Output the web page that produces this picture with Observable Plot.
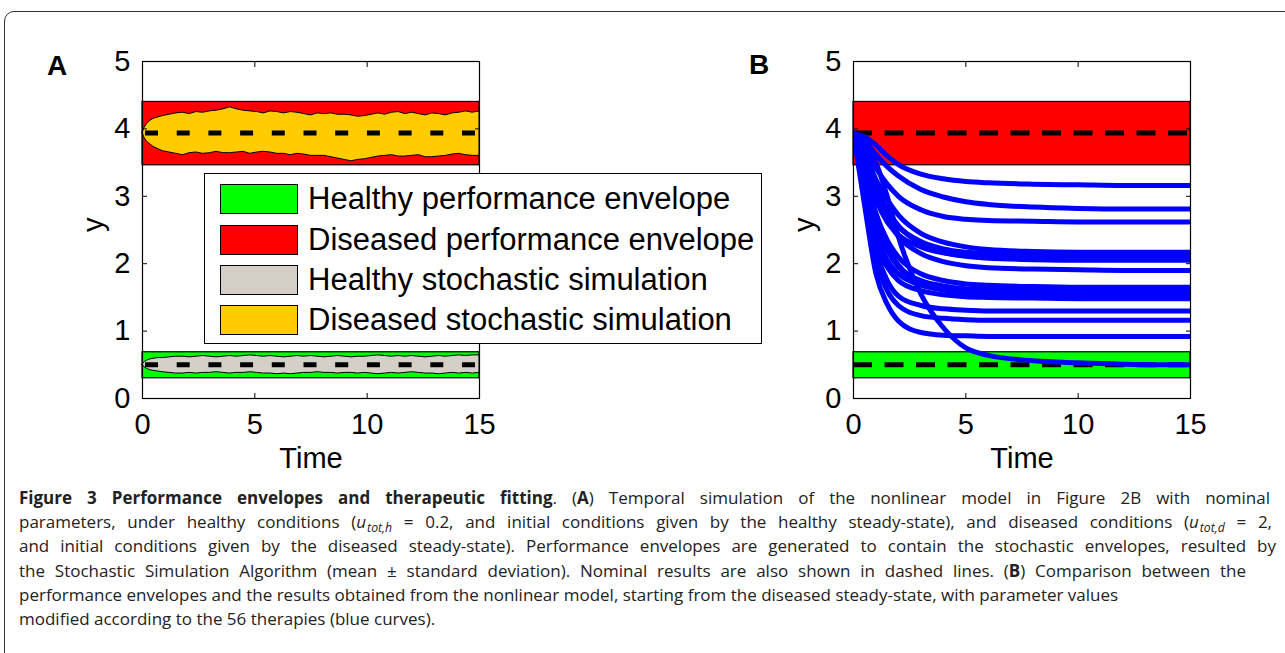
<!DOCTYPE html>
<html>
<head>
<meta charset="utf-8">
<script src="https://cdn.jsdelivr.net/npm/d3@7"></script>
<script src="https://cdn.jsdelivr.net/npm/@observablehq/plot@0.6"></script>
<style>
  html, body { margin: 0; padding: 0; background: #fff; }
  body { width: 1285px; height: 653px; overflow: hidden; position: relative; font-family: "Liberation Sans", Arial, Helvetica, sans-serif; }
  #border { position: absolute; left: 4px; top: 11px; width: 1290px; height: 720px; border: 1px solid #333; border-radius: 10px; box-sizing: border-box; }
  #pa, #pb { position: absolute; top: 0; }
  #pa { left: 0; }
  #pb { left: 711px; }
  .plabel { position: absolute; font-weight: bold; font-size: 28px; line-height: 1; color: #000; }
  #legend { position: absolute; left: 204px; top: 173px; width: 558px; height: 171px; border: 1px solid #000; background: #fff; box-sizing: border-box; }
  .lrow { position: absolute; left: 15px; height: 31px; display: flex; align-items: center; }
  .sw { width: 78px; height: 30px; border: 1px solid #000; box-sizing: border-box; margin-right: 10px; flex: none; }
  .lt { font-size: 31px; white-space: nowrap; color: #000; line-height: 1; }
  #caption { position: absolute; left: 19px; top: 486px; font-family: "Open Sans", "Noto Sans", sans-serif; font-size: 17px; line-height: 24.2px; color: #222; }
  #caption .cl { display: block; height: 24.2px; text-align: justify; text-align-last: justify; }
  #caption .cl.nat { text-align: left; text-align-last: left; white-space: nowrap; }
  #caption sub { font-size: 0.72em; line-height: 0; vertical-align: -0.3em; margin-left: 1px; }
</style>
</head>
<body>
<div id="border"></div>
<div id="pa"></div>
<div id="pb"></div>
<div class="plabel" style="left:47px;top:52px;">A</div>
<div class="plabel" style="left:749px;top:51px;">B</div>
<div id="legend"></div>
<div id="caption">
<span class="cl" style="width:1251px"><b>Figure 3 Performance envelopes and therapeutic fitting</b>. (<b>A</b>) Temporal simulation of the nonlinear model in Figure 2B with nominal</span>
<span class="cl" style="width:1253px">parameters, under healthy conditions (<i>u</i><sub><i>tot,h</i></sub> = 0.2, and initial conditions given by the healthy steady-state), and diseased conditions (<i>u</i><sub><i>tot,d</i></sub> = 2,</span>
<span class="cl" style="width:1257px">and initial conditions given by the diseased steady-state). Performance envelopes are generated to contain the stochastic envelopes, resulted by</span>
<span class="cl" style="width:1227px">the Stochastic Simulation Algorithm (mean ± standard deviation). Nominal results are also shown in dashed lines. (<b>B</b>) Comparison between the</span>
<span class="cl nat">performance envelopes and the results obtained from the nonlinear model, starting from the diseased steady-state, with parameter values</span>
<span class="cl nat">modified according to the 56 therapies (blue curves).</span>
</div>
<script>
// ---------- data ----------
const xTicks = [0, 5, 10, 15];
const yTicks = [0, 1, 2, 3, 4, 5];
const xDomain = [0, 15];
const yDomain = [0, 5];

const legendNames = ["Healthy performance envelope", "Diseased performance envelope", "Healthy stochastic simulation", "Diseased stochastic simulation"];
const legendColors = ["#00ff00", "#ff0000", "#d4d0c8", "#ffcc00"];

// performance envelopes [healthy, diseased]
const envLow = [0.30, 3.46];
const envHigh = [0.686, 4.40];
const envColors = ["#00ff00", "#ff0000"];
// nominal (dashed) results [healthy, diseased]
const nominal = [0.50, 3.94];

// stochastic simulation envelopes (mean ± sd)
const tStoch = [0,0.1,0.2,0.35,0.5,0.7,0.9,
  1.2,1.5,1.8,2.1,2.4,2.7,3.0,3.3,3.6,3.9,
  4.2,4.5,4.8,5.1,5.4,5.7,6.0,6.3,6.6,6.9,
  7.2,7.5,7.8,8.1,8.4,8.7,9.0,9.3,9.6,9.9,
  10.2,10.5,10.8,11.1,11.4,11.7,12.0,12.3,12.6,12.9,
  13.2,13.5,13.8,14.1,14.4,14.7,15];
const diseasedUpper = [3.94,4.02,4.07,4.12,4.15,4.17,4.19,
  4.21,4.23,4.24,4.22,4.25,4.24,4.26,4.27,4.29,4.32,
  4.29,4.27,4.26,4.25,4.23,4.26,4.25,4.23,4.25,4.24,
  4.22,4.20,4.23,4.22,4.23,4.21,4.21,4.20,4.18,4.19,
  4.21,4.23,4.21,4.24,4.25,4.22,4.24,4.22,4.20,4.23,
  4.22,4.20,4.23,4.24,4.26,4.24,4.26];
const diseasedLower = [3.94,3.86,3.81,3.77,3.73,3.70,3.67,
  3.65,3.63,3.61,3.64,3.65,3.63,3.64,3.66,3.64,3.64,
  3.65,3.66,3.63,3.65,3.66,3.65,3.63,3.63,3.61,3.63,
  3.62,3.60,3.60,3.60,3.58,3.56,3.54,3.52,3.54,3.55,
  3.57,3.59,3.60,3.61,3.59,3.59,3.60,3.61,3.58,3.58,
  3.59,3.60,3.62,3.63,3.61,3.60,3.60];
const healthyUpper = [0.50,0.54,0.56,0.58,0.59,0.60,0.60,
  0.61,0.62,0.62,0.61,0.62,0.63,0.62,0.61,0.62,0.63,
  0.62,0.63,0.64,0.63,0.62,0.63,0.62,0.61,0.62,0.63,
  0.62,0.63,0.62,0.61,0.62,0.63,0.62,0.61,0.62,0.62,
  0.63,0.64,0.63,0.62,0.63,0.62,0.63,0.62,0.61,0.62,
  0.63,0.62,0.63,0.64,0.63,0.64,0.64];
const healthyLower = [0.50,0.46,0.44,0.42,0.41,0.40,0.39,
  0.38,0.37,0.37,0.38,0.37,0.38,0.38,0.39,0.38,0.37,
  0.38,0.38,0.39,0.38,0.37,0.37,0.36,0.37,0.36,0.37,
  0.38,0.38,0.39,0.38,0.38,0.37,0.38,0.38,0.37,0.38,
  0.37,0.36,0.37,0.38,0.37,0.38,0.39,0.38,0.37,0.37,
  0.36,0.37,0.38,0.37,0.38,0.37,0.38];

// therapy trajectories (panel B)
const tTherapy = [0, 0.5, 1, 1.5, 2, 3, 4, 5, 6, 8, 10, 12, 15];
const therapyCurves = [
  [3.93,3.88,3.76,3.60,3.47,3.33,3.26,3.22,3.20,3.18,3.17,3.16,3.16],
  [3.93,3.82,3.62,3.44,3.30,3.10,2.99,2.92,2.88,2.84,2.82,2.81,2.81],
  [3.93,3.72,3.42,3.18,3.00,2.80,2.70,2.66,2.64,2.63,2.62,2.62,2.62],
  [3.93,3.65,3.25,2.95,2.72,2.45,2.32,2.25,2.21,2.18,2.17,2.17,2.17],
  [3.93,3.55,3.05,2.75,2.55,2.33,2.22,2.17,2.15,2.13,2.12,2.12,2.12],
  [3.93,3.45,2.95,2.62,2.43,2.25,2.16,2.12,2.10,2.09,2.08,2.08,2.08],
  [3.93,3.60,3.15,2.80,2.56,2.30,2.17,2.11,2.08,2.06,2.05,2.05,2.05],
  [3.93,3.50,3.00,2.65,2.40,2.15,2.03,1.97,1.94,1.92,1.91,1.90,1.90],
  [3.93,3.40,2.75,2.35,2.10,1.85,1.75,1.70,1.68,1.66,1.65,1.65,1.65],
  [3.93,3.30,2.60,2.20,1.95,1.75,1.67,1.63,1.62,1.61,1.60,1.60,1.60],
  [3.93,3.20,2.45,2.05,1.85,1.68,1.61,1.58,1.57,1.56,1.56,1.56,1.56],
  [3.93,3.35,2.70,2.25,1.98,1.72,1.62,1.57,1.55,1.53,1.52,1.52,1.52],
  [3.93,3.10,2.30,1.95,1.75,1.60,1.54,1.51,1.50,1.49,1.48,1.48,1.48],
  [3.93,3.05,2.20,1.75,1.52,1.38,1.33,1.31,1.30,1.30,1.30,1.30,1.30],
  [3.93,2.95,2.05,1.60,1.38,1.23,1.19,1.17,1.16,1.16,1.16,1.16,1.16],
  [3.93,2.85,1.85,1.40,1.15,0.98,0.94,0.93,0.92,0.92,0.92,0.92,0.92],
  [3.93,3.80,3.50,3.00,2.40,1.55,1.05,0.75,0.64,0.56,0.53,0.51,0.50]
];

// ---------- build ----------
const W = 500, H = 480;
const margins = {marginLeft: 142, marginRight: 21, marginTop: 61, marginBottom: 82};
const font = "Liberation Sans, Arial, Helvetica, sans-serif";

const envRows = envLow.map((lo, i) => ({lo, hi: envHigh[i], color: envColors[i]}));
const stochRows = tStoch.map((t, i) => ({t, dLo: diseasedLower[i], dHi: diseasedUpper[i], hLo: healthyLower[i], hHi: healthyUpper[i]}));
const therapyRows = therapyCurves.flatMap((c, id) => c.map((y, j) => ({id, t: tTherapy[j], y})));

function axes() {
  return [
    Plot.frame({stroke: "#000", strokeWidth: 1.2}),
    Plot.axisX({ticks: xTicks, tickSize: -5, tickPadding: 20, tickFormat: d => `${d}`, label: null, fontSize: 29}),
    Plot.axisX({anchor: "top", ticks: [5, 10], tickSize: -5, tickFormat: () => "", label: null}),
    Plot.axisY({ticks: yTicks, tickSize: -5, tickPadding: 17, tickFormat: d => `${d}`, label: null, fontSize: 29}),
    Plot.axisY({anchor: "right", ticks: [1, 2, 3, 4], tickSize: -5, tickFormat: () => "", label: null}),
    Plot.text(["Time"], {frameAnchor: "bottom", dy: 60, text: d => d, fontSize: 29, lineAnchor: "middle"}),
    Plot.text(["y"], {frameAnchor: "left", dx: -49, dy: 2, rotate: -90, text: d => d, fontSize: 29, lineAnchor: "middle"})
  ];
}

function bands() {
  return Plot.rect(envRows, {x1: () => xDomain[0], x2: () => xDomain[1], y1: "lo", y2: "hi", fill: "color", stroke: "#000", strokeWidth: 1.2});
}

const plotA = Plot.plot({
  width: W, height: H, ...margins,
  x: {domain: xDomain, axis: null},
  y: {domain: yDomain, axis: null},
  color: {type: "identity"},
  style: {fontFamily: font, fontSize: "29px", background: "transparent", color: "#000"},
  marks: [
    bands(),
    Plot.areaY(stochRows, {x: "t", y1: "dLo", y2: "dHi", fill: legendColors[3], stroke: "#000", strokeWidth: 1}),
    Plot.areaY(stochRows, {x: "t", y1: "hLo", y2: "hHi", fill: legendColors[2], stroke: "#000", strokeWidth: 1}),
    Plot.ruleY(nominal, {stroke: "#000", strokeWidth: 5, strokeDasharray: "13,18.7", strokeDashoffset: -3}),
    ...axes()
  ]
});
document.getElementById("pa").appendChild(plotA);

const plotB = Plot.plot({
  width: W, height: H, ...margins,
  x: {domain: xDomain, axis: null},
  y: {domain: yDomain, axis: null},
  color: {type: "identity"},
  style: {fontFamily: font, fontSize: "29px", background: "transparent", color: "#000"},
  marks: [
    bands(),
    Plot.ruleY(nominal, {stroke: "#000", strokeWidth: 5, strokeDasharray: "19,12.5"}),
    Plot.line(therapyRows, {x: "t", y: "y", z: "id", stroke: "#0000ff", strokeWidth: 5, curve: "monotone-x", clip: true}),
    ...axes()
  ]
});
document.getElementById("pb").appendChild(plotB);

// legend
const legend = document.getElementById("legend");
const rowTops = [9, 50, 90, 130];
legendNames.forEach((name, i) => {
  const row = document.createElement("div");
  row.className = "lrow";
  row.style.top = rowTops[i] + "px";
  const sw = document.createElement("div");
  sw.className = "sw";
  sw.style.background = legendColors[i];
  const tx = document.createElement("span");
  tx.className = "lt";
  tx.textContent = name;
  row.appendChild(sw);
  row.appendChild(tx);
  legend.appendChild(row);
});
</script>
</body>
</html>
